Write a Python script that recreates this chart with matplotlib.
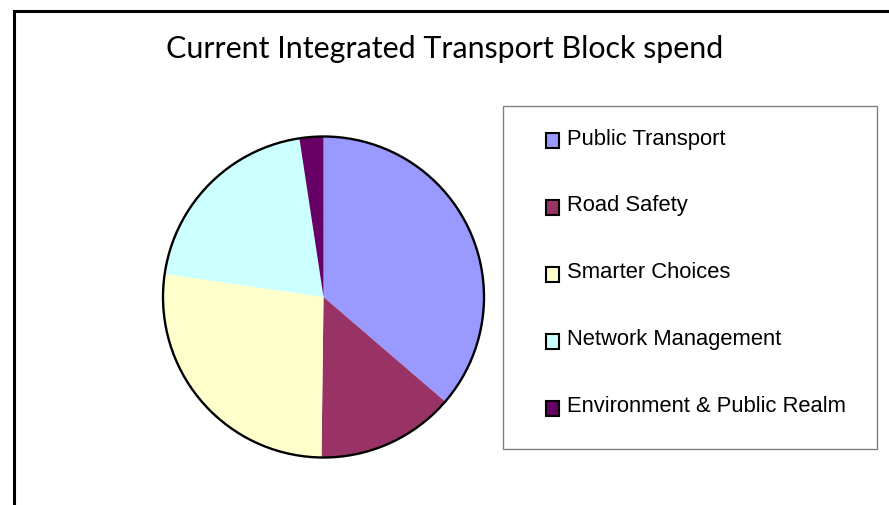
import matplotlib.pyplot as plt
from matplotlib.patches import Rectangle, Circle

# dados do grafico
categorias = ['Public Transport', 'Road Safety', 'Smarter Choices',
              'Network Management', 'Environment & Public Realm']
valores = [36.3, 13.9, 27.1, 20.3, 2.4]
cores = ['#9999ff', '#993366', '#ffffcc', '#ccffff', '#660066']
titulo = 'Current Integrated Transport Block spend'

W, H = 889, 505
fig = plt.figure(figsize=(W / 100, H / 100), dpi=100)

# moldura externa (cortada na direita e embaixo)
fig.patches.append(Rectangle((13.5 / W, -0.1), 1.2, (H - 11) / H + 0.1,
                             transform=fig.transFigure, fill=False,
                             edgecolor='black', linewidth=2.2))

fig.text(445 / W, 1 - 49 / H, titulo, ha='center', va='center',
         fontsize=21.9, family='Lato')

# pizza
cx, cy, r = 323.5, 297, 160.5
ax = fig.add_axes([(cx - r) / W, (H - cy - r) / H, 2 * r / W, 2 * r / H])
ax.pie(valores, colors=cores, startangle=90, counterclock=False,
       wedgeprops=dict(linewidth=0))
ax.add_patch(Circle((0, 0), 1, fill=False, edgecolor='black', linewidth=1.7,
                    clip_on=False))
ax.set_xlim(-1, 1)
ax.set_ylim(-1, 1)
ax.set_aspect('equal')
ax.axis('off')

# legenda feita a mao
fig.patches.append(Rectangle((503 / W, 1 - 449 / H), (877 - 503) / W, (449 - 106) / H,
                             transform=fig.transFigure, fill=False,
                             edgecolor='#808080', linewidth=1))
for i, (nome, cor) in enumerate(zip(categorias, cores)):
    y = 139 + i * 67
    fig.patches.append(Rectangle((546 / W, 1 - (y + 9) / H), 13 / W, 15 / H,
                                 transform=fig.transFigure, facecolor=cor,
                                 edgecolor='black', linewidth=1.5))
    fig.text(567 / W, 1 - y / H, nome, ha='left', va='center',
             fontsize=15.8, family='Liberation Sans')

fig.savefig('out.png', dpi=100)
